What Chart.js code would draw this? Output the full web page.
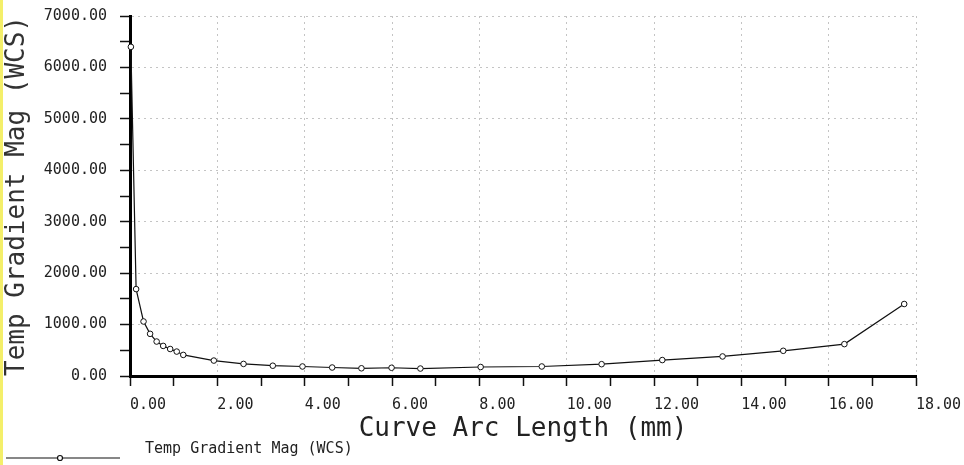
<!DOCTYPE html>
<html>
<head>
<meta charset="utf-8">
<script src="https://cdn.jsdelivr.net/npm/chart.js@4/dist/chart.umd.min.js"></script>
<style>
  html, body { margin: 0; padding: 0; background: #fff; }
  #wrap { width: 964px; height: 465px; position: relative; }
</style>
</head>
<body>
<div id="wrap"><canvas id="chartcanvas" width="964" height="465"></canvas></div>
<script>
// data
var arcLength = [0.02, 0.14, 0.31, 0.46, 0.61, 0.76, 0.92, 1.07, 1.22, 1.92, 2.60, 3.27, 3.95,
                 4.63, 5.30, 5.99, 6.65, 8.03, 9.43, 10.80, 12.19, 13.57, 14.96, 16.36, 17.73];
var gradMag = [6400, 1690, 1060, 820, 670, 585, 525, 475, 410, 300, 235, 200, 185,
               165, 150, 160, 145, 175, 185, 230, 310, 380, 490, 620, 1400];
var seriesName = "Temp Gradient Mag (WCS)";
var xTitle = "Curve Arc Length (mm)";
var yTitle = "Temp Gradient Mag (WCS)";

var points = arcLength.map(function (x, i) { return {x: x, y: gradMag[i]}; });

var MONO = "'DejaVu Sans Mono', 'Liberation Mono', monospace";

// left yellow strip + legend drawn by hand (line with a marker in the middle)
var extras = {
    id: "extras",
    beforeDraw: function (chart) {
        var ctx = chart.ctx;
        ctx.save();
        ctx.fillStyle = "#f4ef6a";
        ctx.fillRect(0, 0, 3, chart.height);
        ctx.restore();
    },
    afterDraw: function (chart) {
        var ctx = chart.ctx;
        ctx.save();
        ctx.strokeStyle = "#111";
        ctx.lineWidth = 1.2;
        ctx.beginPath();
        ctx.moveTo(6, 458);
        ctx.lineTo(120, 458);
        ctx.stroke();
        ctx.beginPath();
        ctx.fillStyle = "#fff";
        ctx.arc(60, 458, 2.5, 0, Math.PI * 2);
        ctx.fill();
        ctx.stroke();
        ctx.fillStyle = "#222";
        ctx.font = "15px " + MONO;
        ctx.textBaseline = "middle";
        ctx.fillText(seriesName, 145, 449);
        ctx.restore();
    }
};

var ctx = document.getElementById("chartcanvas");

new Chart(ctx, {
    type: "line",
    data: {
        datasets: [{
            label: seriesName,
            data: points,
            borderColor: "#111",
            borderWidth: 1.2,
            pointRadius: 2.8,
            pointBackgroundColor: "#fff",
            pointBorderColor: "#111",
            pointBorderWidth: 1,
            tension: 0,
            clip: false
        }]
    },
    options: {
        responsive: false,
        animation: false,
        events: [],
        layout: {
            padding: {left: 0, top: 16, right: 48, bottom: 20}
        },
        plugins: {
            legend: {display: false},
            tooltip: {enabled: false}
        },
        scales: {
            x: {
                type: "linear",
                min: 0,
                max: 18,
                afterFit: function (scale) {
                    scale.height = 69;
                    scale.paddingLeft = 0;
                    scale.paddingRight = 0;
                },
                ticks: {
                    stepSize: 1,
                    autoSkip: false,
                    maxRotation: 0,
                    align: "start",
                    padding: 10,
                    color: "#222",
                    font: {family: MONO, size: 15},
                    callback: function (v) { return v % 2 === 0 ? v.toFixed(2) : ""; }
                },
                grid: {
                    color: function (c) { return c.tick && c.tick.value % 2 === 0 ? "#c4c4c4" : "transparent"; },
                    lineWidth: 1,
                    tickColor: "#111",
                    tickLength: 10,
                    tickWidth: 1.5
                },
                border: {display: true, color: "#000", width: 3, dash: [2, 4]},
                title: {
                    display: true,
                    text: xTitle,
                    color: "#222",
                    font: {family: MONO, size: 26},
                    padding: {top: 2, bottom: 0}
                }
            },
            y: {
                min: 0,
                max: 7000,
                afterFit: function (scale) {
                    scale.width = 130;
                    scale.paddingTop = 0;
                    scale.paddingBottom = 0;
                },
                ticks: {
                    stepSize: 500,
                    autoSkip: false,
                    padding: 13,
                    color: "#222",
                    font: {family: MONO, size: 15},
                    callback: function (v) { return v % 1000 === 0 ? v.toFixed(2) : ""; }
                },
                grid: {
                    color: function (c) { return c.tick && c.tick.value % 1000 === 0 ? "#c4c4c4" : "transparent"; },
                    lineWidth: 1,
                    tickColor: "#111",
                    tickLength: 10,
                    tickWidth: 1.5
                },
                border: {display: true, color: "#000", width: 3, dash: [2, 4]},
                title: {
                    display: true,
                    text: yTitle,
                    color: "#333",
                    font: {family: MONO, size: 26},
                    padding: {top: 2, bottom: 0}
                }
            }
        }
    },
    plugins: [extras]
});
</script>
</body>
</html>
